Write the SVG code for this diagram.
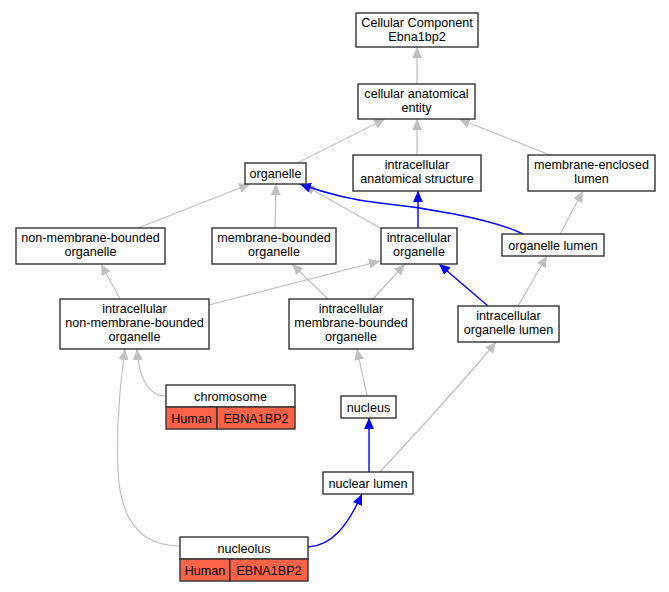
<svg xmlns="http://www.w3.org/2000/svg" width="669" height="592" viewBox="0 0 669 592">
<style>
.n{fill:#fff;stroke:#333;stroke-width:1.4}
.r{fill:#ff6347;stroke:#333;stroke-width:1.4}
text{font-family:"Liberation Sans",Arial,sans-serif;font-size:12.6px;fill:#000;text-anchor:middle}
.g{fill:none;stroke:#c0c0c0;stroke-width:1.2;marker-end:url(#ag)}
.b{fill:none;stroke:#0000ff;stroke-width:1.4;marker-end:url(#ab)}
</style>
<defs>
<marker id="ag" markerUnits="userSpaceOnUse" markerWidth="12" markerHeight="11" refX="11" refY="5" orient="auto"><path d="M0,0 L11,5 L0,10 z" fill="#c0c0c0"/></marker>
<marker id="ab" markerUnits="userSpaceOnUse" markerWidth="12" markerHeight="11" refX="11" refY="5" orient="auto"><path d="M0,0 L11,5 L0,10 z" fill="#0000ff"/></marker>
</defs>
<rect width="669" height="592" fill="#fff"/>
<g id="edges">
<path class="g" d="M417,84 L417,47"/>
<path class="g" d="M297,163 L385,119"/>
<path class="g" d="M417,155 L417,119"/>
<path class="g" d="M550,155 L459,119"/>
<path class="g" d="M138,228 L250,184"/>
<path class="g" d="M275,228 L276,184"/>
<path class="g" d="M382,229 L304,185"/>
<path class="g" d="M560,234 L583,191"/>
<path class="g" d="M120,299 L101,264"/>
<path class="g" d="M209,305 L380,261"/>
<path class="g" d="M328,299 L292,264"/>
<path class="g" d="M373,299 L405,264"/>
<path class="g" d="M518,306 L547,256"/>
<path class="g" d="M166,396 C148,396 139,378 137,349"/>
<path class="g" d="M180,546 C140,546 120,520 118,470 C116,420 121,380 125,349"/>
<path class="g" d="M367,396 L357,349"/>
<path class="g" d="M380,472 C405,445 465,380 496,342"/>
<path class="b" d="M523,234 C490,218 420,207 380,203 C350,200 325,193 300,184"/>
<path class="b" d="M418,228 L418,191"/>
<path class="b" d="M488,306 L439,264"/>
<path class="b" d="M369,472 L369,418"/>
<path class="b" d="M308,547 C332,546 348,525 362,494"/>
</g>
<g id="n_cce"><rect class="n" x="356" y="13" width="122" height="34"/><text x="417" y="26.5">Cellular Component</text><text x="417" y="40.5">Ebna1bp2</text></g>
<g id="n_cae"><rect class="n" x="358" y="84" width="117" height="35"/><text x="416.5" y="97.5">cellular anatomical</text><text x="416.5" y="111.5">entity</text></g>
<g id="n_organelle"><rect class="n" x="245" y="163" width="61" height="21"/><text x="275.5" y="178">organelle</text></g>
<g id="n_ias"><rect class="n" x="353" y="155" width="128" height="36"/><text x="417" y="169">intracellular</text><text x="417" y="183">anatomical structure</text></g>
<g id="n_mel"><rect class="n" x="528" y="155" width="127" height="36"/><text x="591.5" y="169">membrane-enclosed</text><text x="591.5" y="183">lumen</text></g>
<g id="n_nmbo"><rect class="n" x="16" y="228" width="149" height="36"/><text x="90.5" y="242">non-membrane-bounded</text><text x="90.5" y="256">organelle</text></g>
<g id="n_mbo"><rect class="n" x="212" y="228" width="124" height="36"/><text x="274" y="242">membrane-bounded</text><text x="274" y="256">organelle</text></g>
<g id="n_io"><rect class="n" x="381" y="228" width="76" height="36"/><text x="419" y="242">intracellular</text><text x="419" y="256">organelle</text></g>
<g id="n_ol"><rect class="n" x="502" y="234" width="102" height="22"/><text x="553" y="249.5">organelle lumen</text></g>
<g id="n_inmbo"><rect class="n" x="60" y="299" width="149" height="50"/><text x="134.5" y="313">intracellular</text><text x="134.5" y="327">non-membrane-bounded</text><text x="134.5" y="341">organelle</text></g>
<g id="n_imbo"><rect class="n" x="289" y="299" width="124" height="50"/><text x="351" y="313">intracellular</text><text x="351" y="327">membrane-bounded</text><text x="351" y="341">organelle</text></g>
<g id="n_iol"><rect class="n" x="458" y="306" width="101" height="36"/><text x="508.5" y="320">intracellular</text><text x="508.5" y="334">organelle lumen</text></g>
<g id="n_chromosome"><rect class="n" x="166" y="385" width="129" height="22"/><rect class="r" x="166" y="407" width="51" height="22"/><rect class="r" x="217" y="407" width="78" height="22"/><text x="230.5" y="400.5">chromosome</text><text x="191.5" y="422.5">Human</text><text x="256" y="422.5">EBNA1BP2</text></g>
<g id="n_nucleus"><rect class="n" x="341" y="396" width="55" height="22"/><text x="368.5" y="411.5">nucleus</text></g>
<g id="n_nl"><rect class="n" x="323" y="472" width="90" height="22"/><text x="368" y="487.5">nuclear lumen</text></g>
<g id="n_nucleolus"><rect class="n" x="180" y="537" width="128" height="22"/><rect class="r" x="180" y="559" width="50" height="22"/><rect class="r" x="230" y="559" width="78" height="22"/><text x="244" y="552.5">nucleolus</text><text x="205" y="574.5">Human</text><text x="269" y="574.5">EBNA1BP2</text></g>
</svg>
